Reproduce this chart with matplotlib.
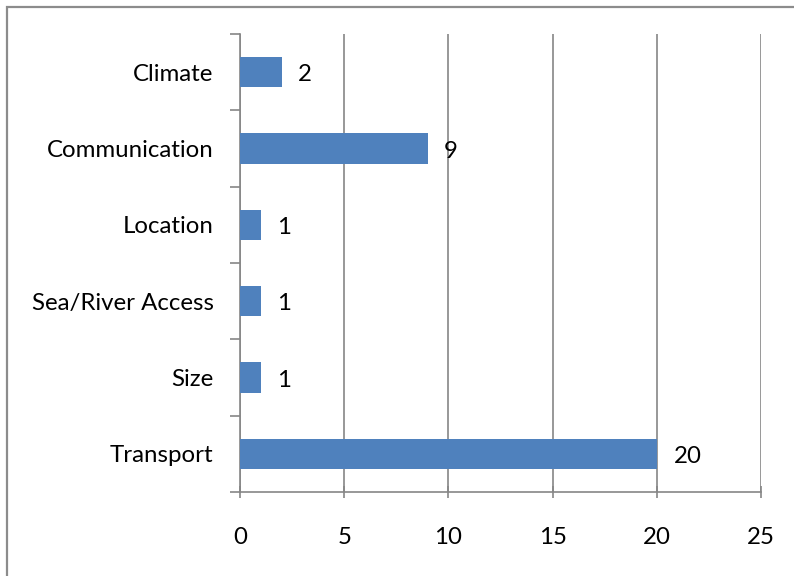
import matplotlib
matplotlib.use("Agg")
import matplotlib.pyplot as plt
from matplotlib.patches import Rectangle
import numpy as np

categories = ["Climate", "Communication", "Location", "Sea/River Access", "Size", "Transport"]
values = [2, 9, 1, 1, 1, 20]
xticks = [0, 5, 10, 15, 20, 25]

plt.rcParams['font.family'] = ['Lato', 'DejaVu Sans']
W, H = 794, 576
fig = plt.figure(figsize=(W/100, H/100), dpi=100)
fig.patch.set_facecolor('white')

# outer chart border
fig.patches.append(Rectangle((6.5/W, -0.1), 1.2, 1 - 6.5/H + 0.1, transform=fig.transFigure,
                             fill=False, edgecolor='#8c8c8c', linewidth=1.6))

ax = fig.add_axes([240/W, 1 - 492/H, (761-240)/W, (492-34)/H])
y = np.arange(len(categories))
ax.barh(y, values, height=0.4, color='#4F81BD', zorder=3)
ax.set_xlim(0, 25)
ax.set_ylim(len(categories) - 0.5, -0.5)

fs = 17.3
ax.set_xticks(xticks)
ax.set_xticklabels([str(t) for t in xticks], fontsize=fs)
ax.set_yticks(y)
ax.set_yticklabels(categories, fontsize=fs)
ax.set_yticks(np.arange(-0.5, len(categories), 1), minor=True)

ax.tick_params(axis='y', which='major', length=0, pad=19)
ax.tick_params(axis='y', which='minor', length=7, width=1.2, color='#868686', direction='out')
ax.tick_params(axis='x', which='major', length=8, width=1.2, color='#868686', direction='inout', pad=21)

ax.grid(axis='x', color='#868686', linewidth=1.2, zorder=0)
for s in ['top', 'right']:
    ax.spines[s].set_visible(False)
ax.spines['left'].set_color('#868686')
ax.spines['bottom'].set_color('#868686')
ax.spines['left'].set_linewidth(1.2)
ax.spines['bottom'].set_linewidth(1.2)

for yi, v in zip(y, values):
    ax.annotate(str(v), (v, yi), xytext=(12, -2), textcoords='offset points',
                va='center', ha='left', fontsize=fs)

fig.savefig("out.png", dpi=100)
